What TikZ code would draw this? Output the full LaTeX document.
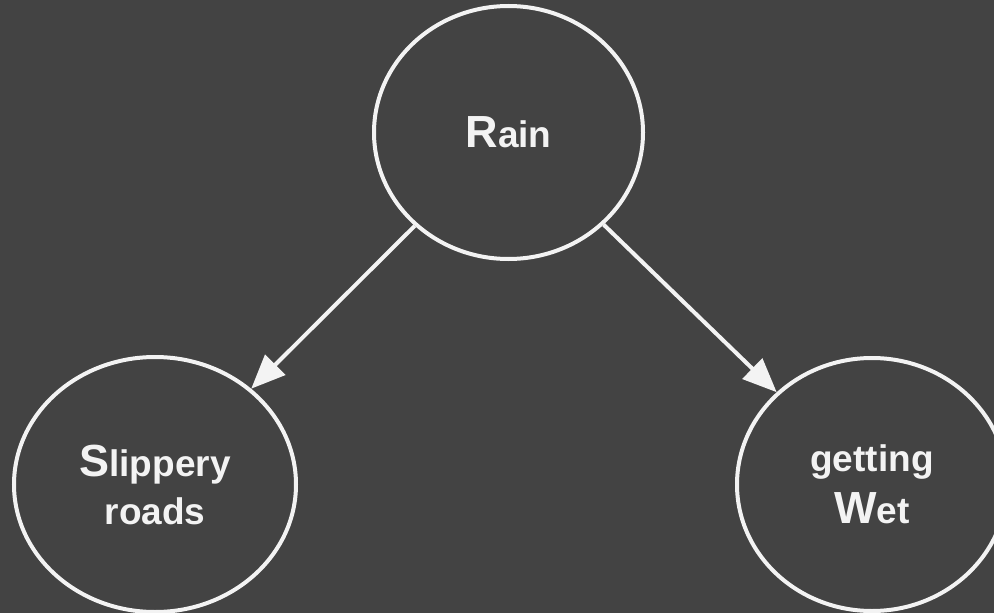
\documentclass[tikz,border=0pt]{standalone}
\usepackage{fontspec}
\setmainfont{Liberation Sans}
\usetikzlibrary{shapes.geometric,arrows.meta}
\definecolor{bgc}{RGB}{67,67,67}
\definecolor{fgc}{RGB}{243,243,243}
\newcommand{\bigL}[1]{{\fontsize{45}{48}\selectfont #1}}
\tikzset{
  varnode/.style={ellipse, draw=fgc, line width=4pt, text=fgc, font=\bfseries\fontsize{37}{48}\selectfont, align=center, inner sep=0pt},
  conn/.style={draw=fgc, line width=4pt, -{Triangle[length=34pt,width=28pt]}}
}
\begin{document}
\begin{tikzpicture}[x=1pt,y=-1pt]
\path[fill=bgc, use as bounding box] (0,0) rectangle (994,613);
\node[varnode, minimum width=269pt, minimum height=253pt] (R) at (508.5,132.5) {\bigL{R}ain};
\node[varnode, minimum width=282pt, minimum height=255pt] (S) at (155,484.5) {\bigL{S}lippery\\roads};
\node[varnode, minimum width=270pt, minimum height=253pt] (W) at (872,484.5) {getting\\[4pt]\bigL{W}et};
\draw[conn] (R) -- (S);
\draw[conn] (R) -- (W);
\end{tikzpicture}
\end{document}
